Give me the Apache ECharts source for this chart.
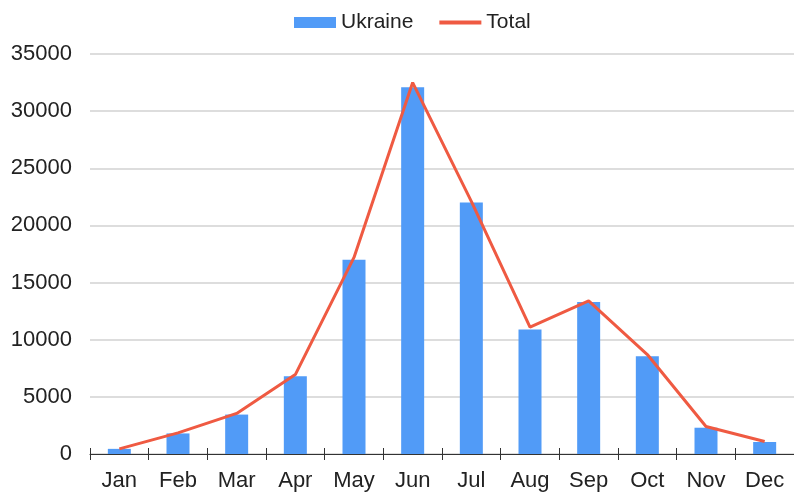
<!DOCTYPE html>
<html><head><meta charset="utf-8">
<script src="https://cdn.jsdelivr.net/npm/echarts@6/dist/echarts.min.js"></script>
<style>html,body{margin:0;padding:0;background:#fff}#c{width:794px;height:492px}</style>
</head><body><div id="c"></div>
<script>
const months = ['Jan','Feb','Mar','Apr','May','Jun','Jul','Aug','Sep','Oct','Nov','Dec'];
const ukraine = [450, 1800, 3450, 6800, 17000, 32100, 22000, 10900, 13300, 8550, 2300, 1050];
const total = [450, 1850, 3550, 6950, 17200, 32500, 22100, 11100, 13400, 8700, 2400, 1100];
const yTicks = {min: 0, max: 35000, interval: 5000};

const chart = echarts.init(document.getElementById('c'));
const font = "'Liberation Sans', Arial, sans-serif";
chart.setOption({
  animation: false,
  textStyle: {fontFamily: font},
  legend: {
    left: 289, top: 7, itemGap: 24, itemWidth: 42, itemHeight: 11,
    textStyle: {fontSize: 21, color: '#222', fontFamily: font},
    data: [{name: 'Ukraine', icon: 'rect'},
           {name: 'Total', itemStyle: {opacity: 0}, lineStyle: {width: 4, color: '#ef5a42'}}]
  },
  grid: {left: 90, right: 0, top: 54, bottom: 38, containLabel: false},
  xAxis: [{
    type: 'category', data: months, boundaryGap: true,
    axisLine: {lineStyle: {color: '#333', width: 1}},
    axisTick: {show: true, length: 6, lineStyle: {color: '#333'}},
    axisLabel: {fontSize: 22, color: '#222', margin: 16, fontFamily: font}
  }, {
    type: 'category', data: months, boundaryGap: true, position: 'bottom',
    axisLine: {show: false},
    axisTick: {show: true, inside: true, length: 6, lineStyle: {color: '#333'}},
    axisLabel: {show: false}
  }],
  yAxis: {
    type: 'value', min: yTicks.min, max: yTicks.max, interval: yTicks.interval,
    axisLine: {show: false}, axisTick: {show: false},
    axisLabel: {fontSize: 22, color: '#222', margin: 18, fontFamily: font, formatter: v => String(v)},
    splitLine: {lineStyle: {color: '#d2d2d2', width: 1.5}}
  },
  series: [{
    name: 'Ukraine', type: 'bar', data: ukraine, barWidth: 23,
    itemStyle: {color: '#519bf7'}
  }, {
    name: 'Total', type: 'line', data: total, symbol: 'none',
    lineStyle: {color: '#ef5a42', width: 3},
    itemStyle: {color: '#ef5a42'}
  }]
});
</script></body></html>
